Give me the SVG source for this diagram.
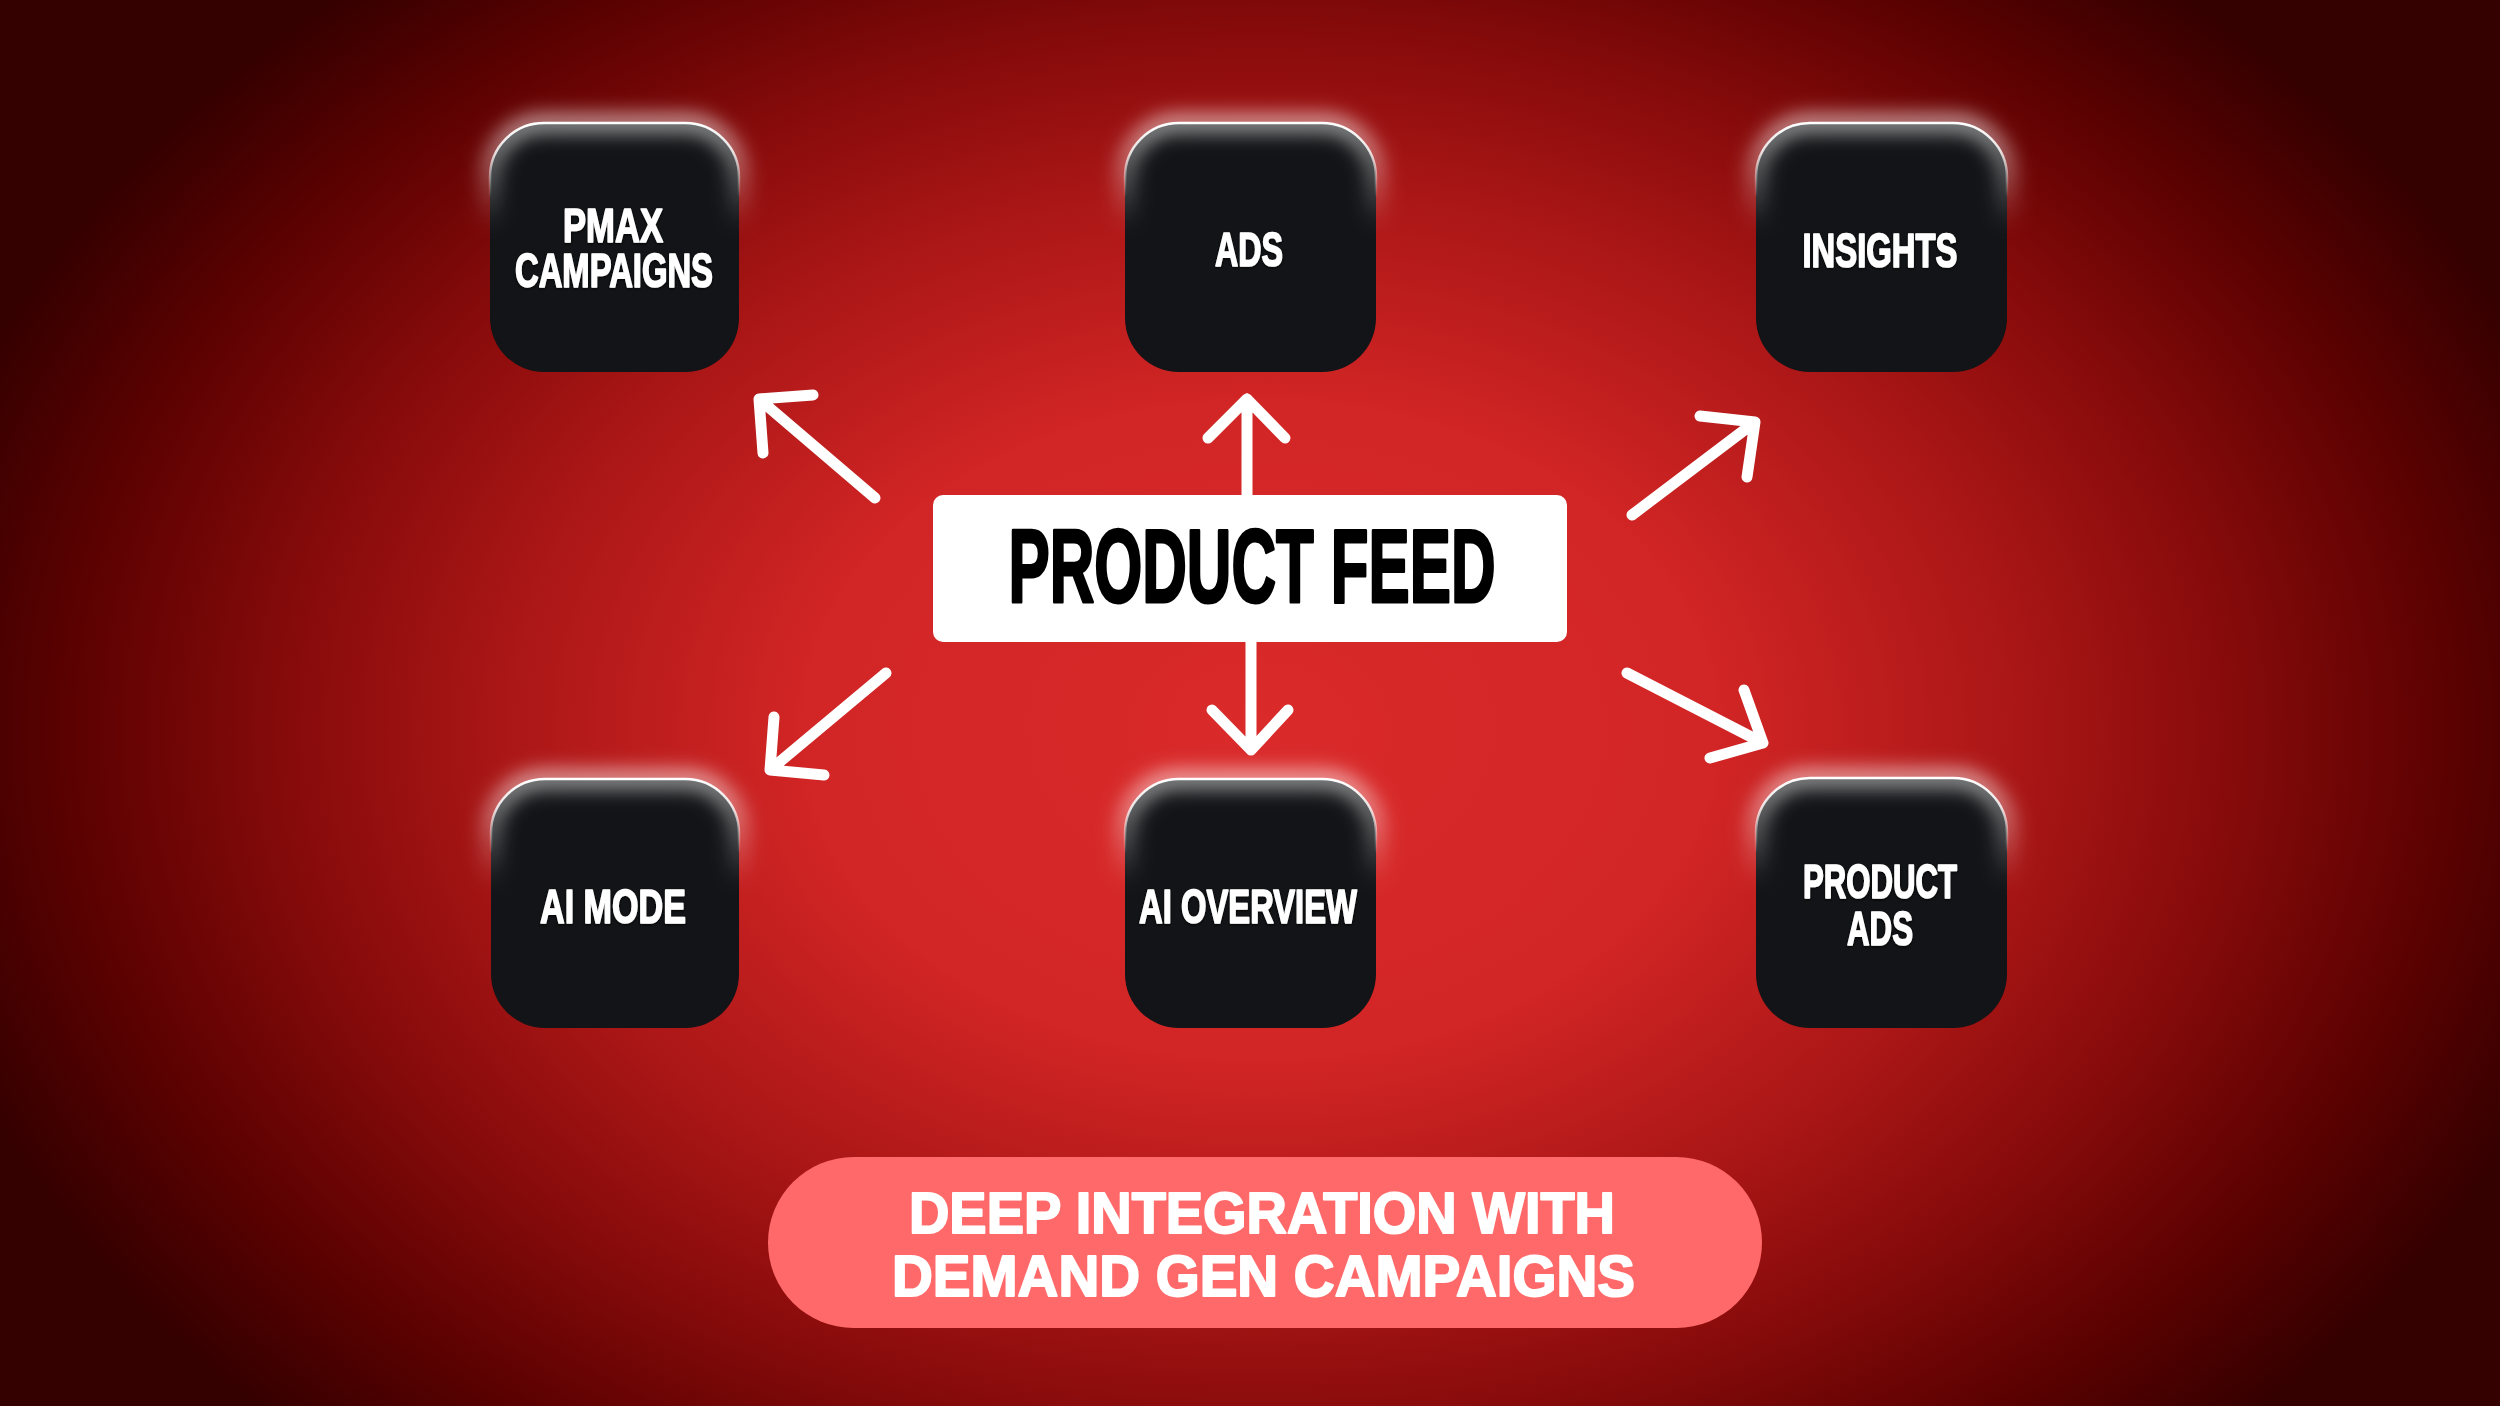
<svg xmlns="http://www.w3.org/2000/svg" width="2500" height="1406" viewBox="0 0 2500 1406">
  <defs>
    <radialGradient id="bg" gradientUnits="userSpaceOnUse" cx="1260" cy="730" r="1380" gradientTransform="translate(0 730) scale(1 0.72) translate(0 -730)">
      <stop offset="0" stop-color="#DA2A2A"/>
      <stop offset="0.33" stop-color="#D22525"/>
      <stop offset="0.55" stop-color="#AA1616"/>
      <stop offset="0.7" stop-color="#880B0B"/>
      <stop offset="0.86" stop-color="#5C0101"/>
      <stop offset="1" stop-color="#340000"/>
    </radialGradient>
    <linearGradient id="glowGrad" x1="0" y1="0" x2="0" y2="1">
      <stop offset="0" stop-color="#ffffff" stop-opacity="0.7"/>
      <stop offset="0.2" stop-color="#ffffff" stop-opacity="0.4"/>
      <stop offset="0.42" stop-color="#ffffff" stop-opacity="0"/>
    </linearGradient>
    <linearGradient id="rimGrad" x1="0" y1="0" x2="0" y2="1">
      <stop offset="0" stop-color="#ffffff" stop-opacity="1"/>
      <stop offset="0.12" stop-color="#ffffff" stop-opacity="0.8"/>
      <stop offset="0.3" stop-color="#ffffff" stop-opacity="0"/>
    </linearGradient>
    <filter id="blur" x="-20%" y="-20%" width="140%" height="140%">
      <feGaussianBlur stdDeviation="10"/>
    </filter>
    <filter id="tshadow" x="-10%" y="-30%" width="120%" height="160%">
      <feDropShadow dx="0" dy="1" stdDeviation="1.5" flood-color="#000" flood-opacity="0.9"/>
    </filter>
    <style>
      .box { fill: #121417; }
      .glow { fill: none; stroke: url(#glowGrad); stroke-width: 16; filter: url(#blur); }
      .rim { fill: none; stroke: url(#rimGrad); stroke-width: 2.5; }
      .lbl { font-family: "Liberation Sans Narrow", "Liberation Sans", "DejaVu Sans Condensed", sans-serif; font-weight: bold; font-size: 48px; fill: #ffffff; stroke: #ffffff; stroke-width: 1.6; stroke-linejoin: round; text-anchor: middle; filter: url(#tshadow); }
      .feed { font-family: "Liberation Sans Narrow", "Liberation Sans", sans-serif; font-weight: bold; font-size: 103px; fill: #000000; stroke: #000000; stroke-width: 3; stroke-linejoin: round; text-anchor: middle; }
      .pill { font-family: "Liberation Sans", "DejaVu Sans", sans-serif; font-weight: bold; font-size: 58px; fill: #ffffff; stroke: #ffffff; stroke-width: 2; stroke-linejoin: round; text-anchor: middle; }
      .arrow { fill: none; stroke: #ffffff; stroke-width: 11; stroke-linecap: round; stroke-linejoin: round; }
    </style>
  </defs>

  <rect x="0" y="0" width="2500" height="1406" fill="url(#bg)"/>

  <g id="connectors">
    <path class="arrow" d="M875,498 L759,399 M813,395 L759,399 L763,453"/>
    <path class="arrow" d="M1247,495 L1247,399 M1208,438 L1247,399 L1285,438" stroke-linecap="butt"/>
    <path class="arrow" d="M1632,515 L1755,422 M1700,416 L1755,422 L1747,477"/>
    <path class="arrow" d="M886,673 L770,770 M774,717 L770,770 L824,775"/>
    <path class="arrow" d="M1251,642 L1251,750 M1212,710 L1251,750 L1288,710"/>
    <path class="arrow" d="M1627,673 L1763,743 M1744,690 L1763,743 L1710,758"/>
  </g>

  <g id="node-pmax">
    <rect class="box" x="490" y="123" width="249" height="249" rx="54"/>
    <rect class="glow" x="490" y="123" width="249" height="249" rx="54"/>
    <rect class="rim" x="490" y="123" width="249" height="249" rx="54"/>
    <text class="lbl" x="613" y="242" textLength="100" lengthAdjust="spacingAndGlyphs">PMAX</text>
    <text class="lbl" x="614" y="287" textLength="198" lengthAdjust="spacingAndGlyphs">CAMPAIGNS</text>
  </g>

  <g id="node-ads">
    <rect class="box" x="1125" y="123" width="251" height="249" rx="54"/>
    <rect class="glow" x="1125" y="123" width="251" height="249" rx="54"/>
    <rect class="rim" x="1125" y="123" width="251" height="249" rx="54"/>
    <text class="lbl" x="1249" y="266" textLength="68" lengthAdjust="spacingAndGlyphs">ADS</text>
  </g>

  <g id="node-insights">
    <rect class="box" x="1756" y="123" width="251" height="249" rx="54"/>
    <rect class="glow" x="1756" y="123" width="251" height="249" rx="54"/>
    <rect class="rim" x="1756" y="123" width="251" height="249" rx="54"/>
    <text class="lbl" x="1880" y="267" textLength="155" lengthAdjust="spacingAndGlyphs">INSIGHTS</text>
  </g>

  <g id="node-product-feed">
    <rect x="933" y="495" width="634" height="147" rx="10" fill="#ffffff"/>
    <text class="feed" x="1252" y="602" textLength="487" lengthAdjust="spacingAndGlyphs">PRODUCT FEED</text>
  </g>

  <g id="node-ai-mode">
    <rect class="box" x="491" y="779" width="248" height="249" rx="54"/>
    <rect class="glow" x="491" y="779" width="248" height="249" rx="54"/>
    <rect class="rim" x="491" y="779" width="248" height="249" rx="54"/>
    <text class="lbl" x="613" y="923" textLength="146" lengthAdjust="spacingAndGlyphs">AI MODE</text>
  </g>

  <g id="node-ai-overview">
    <rect class="box" x="1125" y="779" width="251" height="249" rx="54"/>
    <rect class="glow" x="1125" y="779" width="251" height="249" rx="54"/>
    <rect class="rim" x="1125" y="779" width="251" height="249" rx="54"/>
    <text class="lbl" x="1248" y="923" textLength="218" lengthAdjust="spacingAndGlyphs">AI OVERVIEW</text>
  </g>

  <g id="node-product-ads">
    <rect class="box" x="1756" y="778" width="251" height="250" rx="54"/>
    <rect class="glow" x="1756" y="778" width="251" height="250" rx="54"/>
    <rect class="rim" x="1756" y="778" width="251" height="250" rx="54"/>
    <text class="lbl" x="1880" y="898" textLength="154" lengthAdjust="spacingAndGlyphs">PRODUCT</text>
    <text class="lbl" x="1880" y="945" textLength="66" lengthAdjust="spacingAndGlyphs">ADS</text>
  </g>

  <g id="node-banner">
    <rect x="768" y="1157" width="994" height="171" rx="85.5" fill="#FF6969"/>
    <text class="pill" x="1262" y="1233" textLength="706" lengthAdjust="spacingAndGlyphs">DEEP INTEGRATION WITH</text>
    <text class="pill" x="1263.5" y="1296" textLength="743" lengthAdjust="spacingAndGlyphs">DEMAND GEN CAMPAIGNS</text>
  </g>
</svg>
